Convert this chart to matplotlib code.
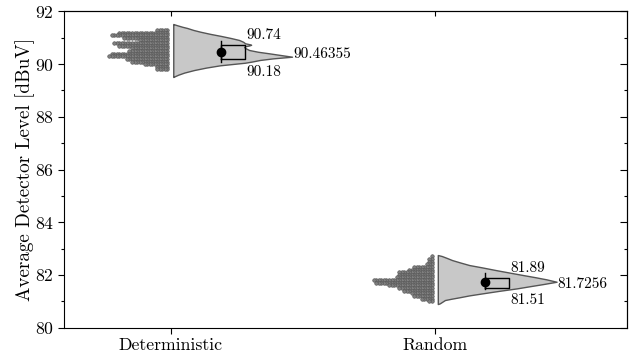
import numpy as np
import matplotlib
matplotlib.use('Agg')
import matplotlib.pyplot as plt
from matplotlib.ticker import MultipleLocator

plt.rcParams['font.family'] = ['cmr10', 'DejaVu Serif']
plt.rcParams['mathtext.fontset'] = 'cm'
plt.rcParams['axes.formatter.use_mathtext'] = True

categories = ['Deterministic', 'Random']

# dot rows: value of each row and number of points in it
det_levels = [91.3, 91.2, 91.1, 91.0, 90.9, 90.8, 90.7, 90.6, 90.5, 90.4,
              90.3, 90.2, 90.1, 90.0, 89.9, 89.8]
det_counts = [5, 20, 23, 18, 12, 22, 20, 15, 16, 23, 24, 17, 15, 10, 5, 5]
rnd_levels = [82.7, 82.6, 82.5, 82.4, 82.3, 82.2, 82.1, 82.0, 81.9, 81.8,
              81.7, 81.6, 81.5, 81.4, 81.3, 81.2, 81.1, 81.0]
rnd_counts = [1, 2, 2, 3, 8, 10, 14, 14, 15, 24, 23, 18, 14, 12, 9, 8, 5, 2]

# half-violin outlines: value and relative density
det_violin_y = [91.525, 91.50, 91.476, 91.42, 91.373, 91.30, 91.233, 91.15,
                91.07, 90.99, 90.918, 90.85, 90.792, 90.76, 90.735, 90.71,
                90.68, 90.65, 90.614, 90.538, 90.47, 90.412, 90.35, 90.283,
                90.22, 90.16, 90.10, 90.055, 89.957, 89.87, 89.778, 89.68,
                89.60, 89.55, 89.512]
det_violin_w = [0, 2, 4, 9, 14, 20, 27, 37, 48, 58, 66, 70, 72, 76, 78, 76,
                72, 71, 72, 76, 85, 96, 107, 119, 100, 87, 79, 72, 47, 33, 21,
                11, 5, 2, 0]
rnd_violin_y = [82.752, 82.714, 82.64, 82.562, 82.47, 82.372, 82.28, 82.182,
                82.09, 81.992, 81.91, 81.829, 81.738, 81.651, 81.57, 81.487,
                81.39, 81.297, 81.22, 81.146, 81.09, 81.043, 80.918, 80.891]
rnd_violin_w = [0, 4, 9, 14, 22, 31, 44, 57, 70, 84, 96, 107, 117, 104, 91,
                78, 60, 44, 31, 21, 13, 7, 2, 0]

means = [90.46355, 81.7256]
q1 = [90.18, 81.51]
q3 = [90.74, 81.89]
whisk_lo = [90.08, 81.46]
whisk_hi = [90.88, 82.07]
mean_labels = ['90.46355', '81.7256']
q1_labels = ['90.18', '81.51']
q3_labels = ['90.74', '81.89']

fig = plt.figure(figsize=(6.32, 3.59), dpi=100)
ax = fig.add_axes([0.1017, 0.0877, 0.9920 - 0.1017, 0.968 - 0.0877])

violin_w = 0.449
violin_off = 0.01
box_l, box_r = 0.19, 0.28
dot_dx = 0.0095
dot_off = 0.013

levels = [det_levels, rnd_levels]
counts = [det_counts, rnd_counts]
vy = [det_violin_y, rnd_violin_y]
vw = [det_violin_w, rnd_violin_w]

for pos in range(2):
    # rain
    xs, ys = [], []
    for v, n in zip(levels[pos], counts[pos]):
        for i in range(n):
            xs.append(pos - dot_off - i * dot_dx)
            ys.append(v)
    ax.scatter(xs, ys, s=6.5, facecolor='#808080', edgecolor='#555555',
               linewidths=0.45, zorder=2)
    # cloud
    y = np.array(vy[pos])
    w = np.array(vw[pos], dtype=float)
    w = w / w.max() * violin_w
    ax.fill_betweenx(y, pos + violin_off, pos + violin_off + w,
                     facecolor='#c8c8c8', edgecolor='#555555', linewidth=1.0,
                     zorder=1)
    tip_x = pos + violin_off + violin_w
    # box
    ax.plot([pos + box_l, pos + box_r, pos + box_r, pos + box_l, pos + box_l],
            [q1[pos], q1[pos], q3[pos], q3[pos], q1[pos]],
            color='black', lw=1.0, zorder=3)
    ax.plot([pos + box_l, pos + box_l], [whisk_lo[pos], whisk_hi[pos]],
            color='black', lw=1.0, zorder=3)
    ax.plot([pos + box_l], [means[pos]], 'o', color='black', ms=6, zorder=4)
    # labels
    ax.annotate(q3_labels[pos], (pos + box_r, q3[pos]), xytext=(1.5, 6),
                textcoords='offset pixels', ha='left', va='baseline',
                fontsize=11)
    ax.annotate(q1_labels[pos], (pos + box_r, q1[pos]), xytext=(1.5, -6),
                textcoords='offset pixels', ha='left', va='top',
                fontsize=11)
    ax.annotate(mean_labels[pos], (tip_x, means[pos]), xytext=(1.0, -2),
                textcoords='offset pixels', ha='left', va='center',
                fontsize=11)

ax.set_xlim(-0.402, 1.725)
ax.set_ylim(80, 92)
ax.set_xticks([0, 1])
ax.set_xticklabels(categories)
ax.yaxis.set_major_locator(MultipleLocator(2))
ax.yaxis.set_minor_locator(MultipleLocator(1))
ax.tick_params(axis='both', which='major', direction='out', length=4.3,
               width=0.8, labelsize=12.75, top=False, right=False, pad=3)
ax.tick_params(axis='y', which='minor', direction='out', length=2, width=0.8,
               right=False)
ax.tick_params(axis='x', which='minor', bottom=False, top=False)
ax.set_ylabel('Average Detector Level [dBuV]', fontsize=13.8, labelpad=0)

secy = ax.secondary_yaxis('right')
secy.yaxis.set_major_locator(MultipleLocator(2))
secy.yaxis.set_minor_locator(MultipleLocator(1))
secy.tick_params(which='major', direction='in', length=4.8, width=0.8,
                 labelright=False)
secy.tick_params(which='minor', direction='in', length=2.4, width=0.8)
secx = ax.secondary_xaxis('top')
secx.set_xticks([0, 1])
secx.tick_params(which='major', direction='in', length=3.6, width=0.8,
                 labeltop=False)
secx.tick_params(which='minor', top=False)

for s in ax.spines.values():
    s.set_linewidth(0.8)

fig.savefig('out.png', dpi=100)
